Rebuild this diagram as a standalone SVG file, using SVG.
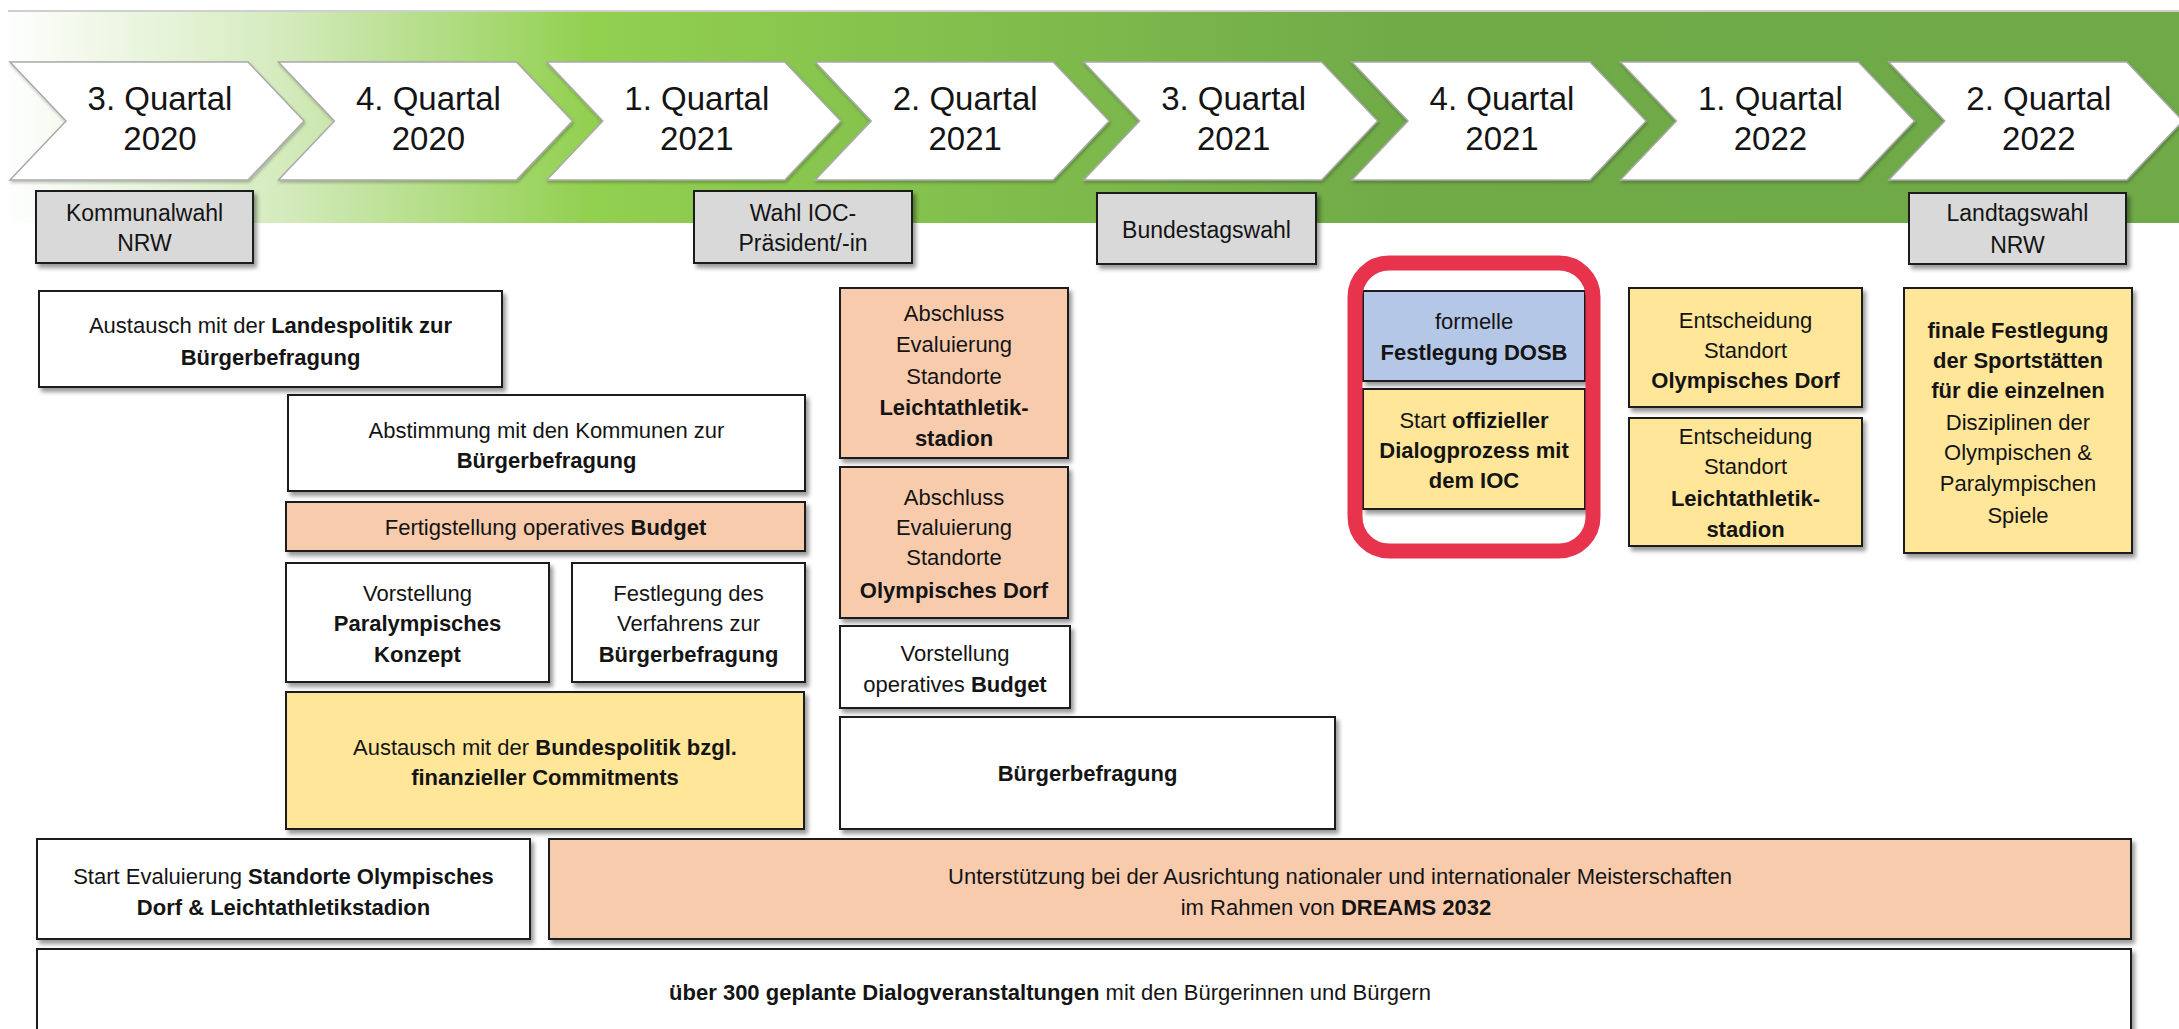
<svg xmlns="http://www.w3.org/2000/svg" width="2179" height="1029" viewBox="0 0 2179 1029">
<defs>
<linearGradient id="band" x1="0" y1="0" x2="2179" y2="0" gradientUnits="userSpaceOnUse">
<stop offset="0" stop-color="#ffffff"/>
<stop offset="0.13" stop-color="#d4ebbd"/>
<stop offset="0.27" stop-color="#92d050"/>
<stop offset="0.64" stop-color="#70ab48"/>
<stop offset="1" stop-color="#6fa948"/>
</linearGradient>
<filter id="sh" x="-10%" y="-10%" width="125%" height="130%">
<feDropShadow dx="3" dy="4" stdDeviation="2.2" flood-color="#000" flood-opacity="0.4"/>
</filter>
<filter id="csh" x="-10%" y="-10%" width="125%" height="130%">
<feDropShadow dx="1" dy="2" stdDeviation="1.5" flood-color="#000" flood-opacity="0.25"/>
</filter>
<path id="chev" d="M0,62 L238,62 L294,121 L238,180 L0,180 L56,121 Z"/>
</defs>
<style>
.t{font-family:"Liberation Sans",Arial,sans-serif;font-size:22px;fill:#141414;text-anchor:middle}
.gt{font-size:23px}
.q{font-size:33px}
.b{font-weight:bold}
.box{stroke:#1b1b1b;stroke-width:2;filter:url(#sh)}
.w{fill:#ffffff}
.s{fill:#f8cbad}
.y{fill:#ffe699}
.bl{fill:#b4c7e7}
.g{fill:#d9d9d9}
.ch{fill:#ffffff;stroke:#a9a9a9;stroke-width:1.5;filter:url(#csh)}
</style>
<rect width="2179" height="1029" fill="#ffffff"/>
<g id="timeline-band">
<rect x="0" y="12" width="2179" height="211" fill="url(#band)"/>
<line x1="8" y1="11" x2="2179" y2="11" stroke="#cfcfcf" stroke-width="2"/>
</g>
<g id="quarters">
<g id="q1"><use href="#chev" class="ch" transform="translate(10,0)"/><text class="t q" x="160" y="110">3. Quartal</text><text class="t q" x="160" y="150">2020</text></g>
<g id="q2"><use href="#chev" class="ch" transform="translate(278.4,0)"/><text class="t q" x="428.4" y="110">4. Quartal</text><text class="t q" x="428.4" y="150">2020</text></g>
<g id="q3"><use href="#chev" class="ch" transform="translate(546.8,0)"/><text class="t q" x="696.8" y="110">1. Quartal</text><text class="t q" x="696.8" y="150">2021</text></g>
<g id="q4"><use href="#chev" class="ch" transform="translate(815.2,0)"/><text class="t q" x="965.2" y="110">2. Quartal</text><text class="t q" x="965.2" y="150">2021</text></g>
<g id="q5"><use href="#chev" class="ch" transform="translate(1083.6,0)"/><text class="t q" x="1233.6" y="110">3. Quartal</text><text class="t q" x="1233.6" y="150">2021</text></g>
<g id="q6"><use href="#chev" class="ch" transform="translate(1352,0)"/><text class="t q" x="1502" y="110">4. Quartal</text><text class="t q" x="1502" y="150">2021</text></g>
<g id="q7"><use href="#chev" class="ch" transform="translate(1620.4,0)"/><text class="t q" x="1770.4" y="110">1. Quartal</text><text class="t q" x="1770.4" y="150">2022</text></g>
<g id="q8"><use href="#chev" class="ch" transform="translate(1888.8,0)"/><text class="t q" x="2038.8" y="110">2. Quartal</text><text class="t q" x="2038.8" y="150">2022</text></g>
</g>
<g id="events">
<g id="kommunalwahl"><rect class="box g" x="36" y="191" width="217" height="72"/><text class="t gt" x="144.5" y="221">Kommunalwahl</text><text class="t gt" x="144.5" y="251">NRW</text></g>
<g id="wahl-ioc"><rect class="box g" x="694" y="191" width="218" height="72"/><text class="t gt" x="803" y="221">Wahl IOC-</text><text class="t gt" x="803" y="251">Präsident/-in</text></g>
<g id="bundestagswahl"><rect class="box g" x="1097" y="193" width="219" height="71"/><text class="t gt" x="1206.5" y="238">Bundestagswahl</text></g>
<g id="landtagswahl"><rect class="box g" x="1909" y="193" width="217" height="71"/><text class="t gt" x="2017.5" y="221">Landtagswahl</text><text class="t gt" x="2017.5" y="253">NRW</text></g>
</g>
<g id="connectors"/>
<g id="tasks">
<g id="landespolitik"><rect class="box w" x="39" y="291" width="463" height="96"/><text class="t" x="270.5" y="333">Austausch mit der <tspan class="b">Landespolitik zur</tspan></text><text class="t b" x="270.5" y="365">Bürgerbefragung</text></g>
<g id="kommunen"><rect class="box w" x="288" y="395" width="517" height="96"/><text class="t" x="546.5" y="438">Abstimmung mit den Kommunen zur</text><text class="t b" x="546.5" y="468">Bürgerbefragung</text></g>
<g id="fertigstellung-budget"><rect class="box s" x="286" y="502" width="519" height="49"/><text class="t" x="545.5" y="535">Fertigstellung operatives <tspan class="b">Budget</tspan></text></g>
<g id="paralympisches-konzept"><rect class="box w" x="286" y="563" width="263" height="119"/><text class="t" x="417.5" y="601">Vorstellung</text><text class="t b" x="417.5" y="631">Paralympisches</text><text class="t b" x="417.5" y="662">Konzept</text></g>
<g id="verfahren"><rect class="box w" x="572" y="563" width="233" height="119"/><text class="t" x="688.5" y="601">Festlegung des</text><text class="t" x="688.5" y="631">Verfahrens zur</text><text class="t b" x="688.5" y="662">Bürgerbefragung</text></g>
<g id="bundespolitik"><rect class="box y" x="286" y="692" width="518" height="137"/><text class="t" x="545" y="755">Austausch mit der <tspan class="b">Bundespolitik bzgl.</tspan></text><text class="t b" x="545" y="785">finanzieller Commitments</text></g>
<g id="abschluss-stadion"><rect class="box s" x="840" y="288" width="228" height="170"/><text class="t" x="954" y="321">Abschluss</text><text class="t" x="954" y="352">Evaluierung</text><text class="t" x="954" y="384">Standorte</text><text class="t b" x="954" y="415">Leichtathletik-</text><text class="t b" x="954" y="446">stadion</text></g>
<g id="abschluss-dorf"><rect class="box s" x="840" y="467" width="228" height="151"/><text class="t" x="954" y="505">Abschluss</text><text class="t" x="954" y="535">Evaluierung</text><text class="t" x="954" y="565">Standorte</text><text class="t b" x="954" y="598">Olympisches Dorf</text></g>
<g id="vorstellung-budget"><rect class="box w" x="840" y="626" width="230" height="82"/><text class="t" x="955" y="661">Vorstellung</text><text class="t" x="955" y="692">operatives <tspan class="b">Budget</tspan></text></g>
<g id="buergerbefragung"><rect class="box w" x="840" y="717" width="495" height="112"/><text class="t b" x="1087.5" y="781">Bürgerbefragung</text></g>
<g id="festlegung-dosb"><rect class="box bl" x="1363" y="291" width="222" height="90"/><text class="t" x="1474" y="329">formelle</text><text class="t b" x="1474" y="360">Festlegung DOSB</text></g>
<g id="dialogprozess"><rect class="box y" x="1363" y="389" width="222" height="120"/><text class="t" x="1474" y="428">Start <tspan class="b">offizieller</tspan></text><text class="t b" x="1474" y="458">Dialogprozess mit</text><text class="t b" x="1474" y="488">dem IOC</text></g>
<g id="entscheidung-dorf"><rect class="box y" x="1629" y="288" width="233" height="119"/><text class="t" x="1745.5" y="328">Entscheidung</text><text class="t" x="1745.5" y="358">Standort</text><text class="t b" x="1745.5" y="388">Olympisches Dorf</text></g>
<g id="entscheidung-stadion"><rect class="box y" x="1629" y="418" width="233" height="128"/><text class="t" x="1745.5" y="444">Entscheidung</text><text class="t" x="1745.5" y="474">Standort</text><text class="t b" x="1745.5" y="506">Leichtathletik-</text><text class="t b" x="1745.5" y="537">stadion</text></g>
<g id="sportstaetten"><rect class="box y" x="1904" y="288" width="228" height="265"/><text class="t b" x="2018" y="338">finale Festlegung</text><text class="t b" x="2018" y="368">der Sportstätten</text><text class="t b" x="2018" y="398">für die einzelnen</text><text class="t" x="2018" y="430">Disziplinen der</text><text class="t" x="2018" y="460">Olympischen &amp;</text><text class="t" x="2018" y="491">Paralympischen</text><text class="t" x="2018" y="523">Spiele</text></g>
<g id="start-evaluierung"><rect class="box w" x="37" y="839" width="493" height="100"/><text class="t" x="283.5" y="884">Start Evaluierung <tspan class="b">Standorte Olympisches</tspan></text><text class="t b" x="283.5" y="915">Dorf &amp; Leichtathletikstadion</text></g>
<g id="dreams"><rect class="box s" x="549" y="839" width="1582" height="100"/><text class="t" x="1340" y="884">Unterstützung bei der Ausrichtung nationaler und internationaler Meisterschaften</text><text class="t" x="1336" y="915">im Rahmen von <tspan class="b">DREAMS 2032</tspan></text></g>
<g id="dialogveranstaltungen"><rect class="box w" x="37" y="949" width="2094" height="100"/><text class="t" x="1050" y="1000"><tspan class="b">über 300 geplante Dialogveranstaltungen</tspan> mit den Bürgerinnen und Bürgern</text></g>
</g>
<g id="highlight">
<rect x="1355" y="263" width="238" height="288" rx="34" ry="34" fill="none" stroke="#e8334d" stroke-width="15"/>
</g>
</svg>
